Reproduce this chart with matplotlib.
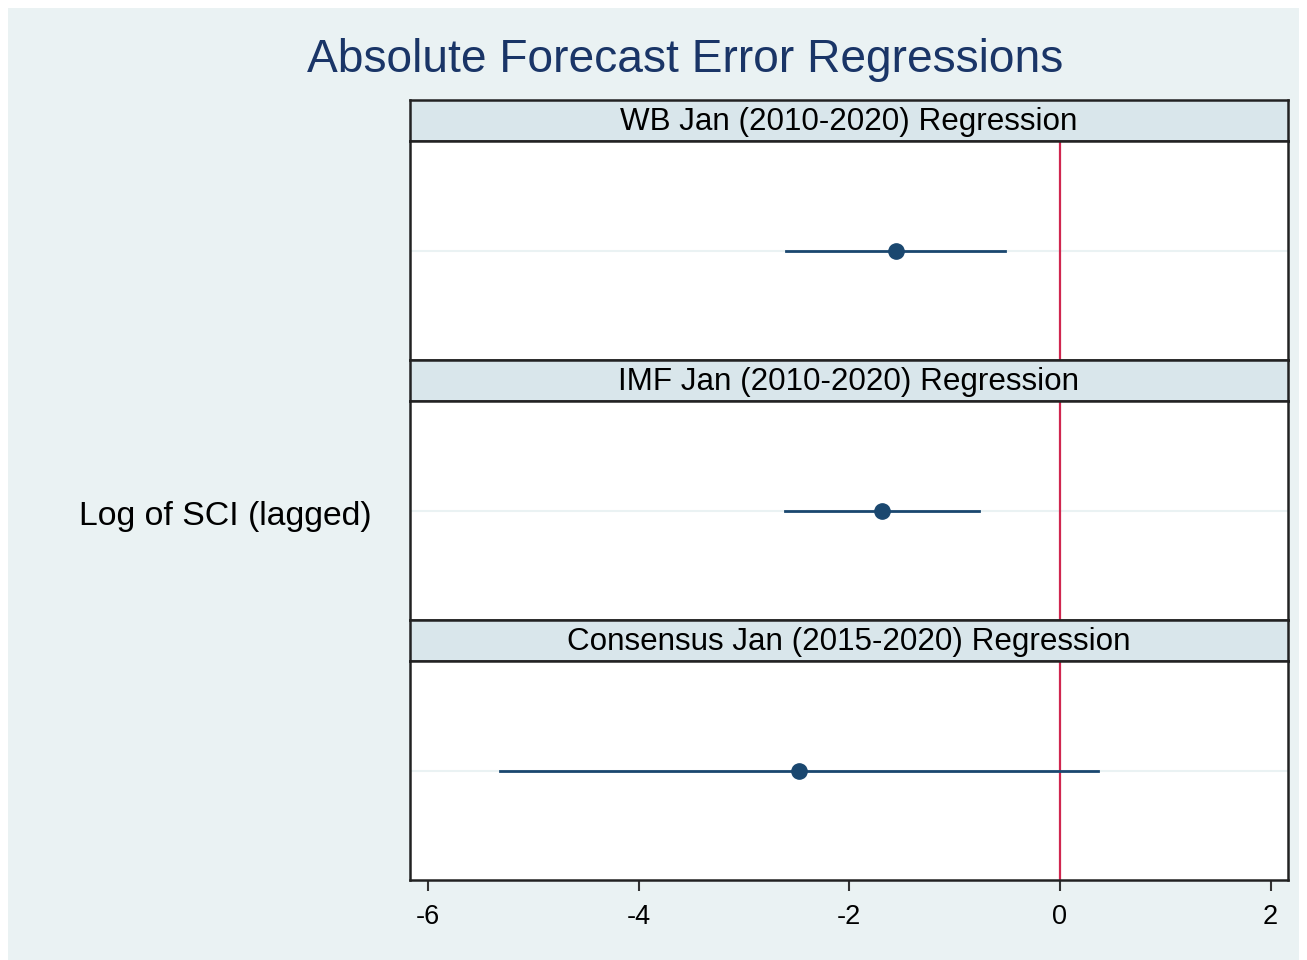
import numpy as np
import matplotlib.pyplot as plt

# coefficient estimates and 95% CIs
panels = ['WB Jan (2010-2020) Regression',
          'IMF Jan (2010-2020) Regression',
          'Consensus Jan (2015-2020) Regression']
coef = [-1.56, -1.69, -2.48]
ci_lo = [-2.60, -2.61, -5.32]
ci_hi = [-0.52, -0.77, 0.36]
xticks = [-6, -4, -2, 0, 2]
ylabel = 'Log of SCI (lagged)'

bg = '#eaf2f3'
strip_bg = '#d9e6eb'
navy = '#1a476f'
red = '#d0264f'

plt.rcParams['font.family'] = ['Liberation Sans', 'DejaVu Sans']

W, H = 1307, 960
fig = plt.figure(figsize=(W / 100, H / 100), dpi=100)
fig.patch.set_facecolor('white')
# light inner background
fig.patches.append(plt.Rectangle((8 / W, 0), (W - 16) / W, (H - 8) / H,
                                 transform=fig.transFigure, facecolor=bg,
                                 edgecolor='none', zorder=-10))

def fig_box(x0, y0, x1, y1):
    # pixel box (top-left origin) -> figure fraction
    return [x0 / W, 1 - y1 / H, (x1 - x0) / W, (y1 - y0) / H]

left, right = 410, 1288
top = 100
strip_h, panel_h = 41, 219
xlim = (-6.17, 2.165)

for i, name in enumerate(panels):
    y0 = top + i * (strip_h + panel_h)
    sax = fig.add_axes(fig_box(left, y0, right, y0 + strip_h))
    sax.set_facecolor(strip_bg)
    sax.set_xticks([]); sax.set_yticks([])
    for sp in sax.spines.values():
        sp.set_color('#222222'); sp.set_linewidth(1.8)
    sax.text(0.5, 0.47, name, ha='center', va='center', fontsize=22.6,
             color='black', transform=sax.transAxes)

    ax = fig.add_axes(fig_box(left, y0 + strip_h, right, y0 + strip_h + panel_h))
    ax.set_facecolor('white')
    ax.set_xlim(*xlim)
    ax.set_ylim(-1, 1)
    ax.axhline(0, color=bg, lw=1.5, zorder=1)
    ax.axvline(0, color=red, lw=1.6, zorder=2)
    ax.plot([ci_lo[i], ci_hi[i]], [0, 0], color=navy, lw=2, zorder=3)
    ax.plot([coef[i]], [0], 'o', color=navy, ms=11, zorder=4)
    ax.set_yticks([])
    for sp in ax.spines.values():
        sp.set_color('#222222'); sp.set_linewidth(1.8)
    if i == len(panels) - 1:
        ax.set_xticks(xticks)
        ax.set_xticklabels([str(t) for t in xticks])
        ax.tick_params(axis='x', length=8, width=1.5, color='#333333',
                       labelsize=19.5, pad=9)
    else:
        ax.set_xticks([])

fig.text(225 / W, 1 - 516 / H, ylabel, ha='center', va='center', fontsize=24.3)
fig.text(685 / W, 1 - 60 / H, 'Absolute Forecast Error Regressions',
         ha='center', va='center', fontsize=33.2, color='#1a3567')

fig.savefig('out.png', dpi=100)
